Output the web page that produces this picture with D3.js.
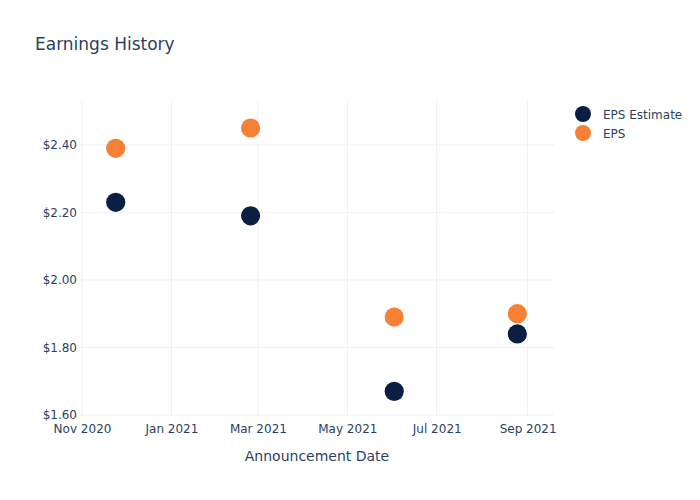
<!DOCTYPE html>
<html>
<head>
<meta charset="utf-8">
<script src="https://cdn.jsdelivr.net/npm/d3@7"></script>
<style>
  body { margin: 0; background: #fff; }
  text { font-family: "DejaVu Sans", Verdana, sans-serif; fill: #2a3f5f; }
</style>
</head>
<body>
<div id="chart"></div>
<script>
const width = 700;
const height = 500;

// data
const dates = ["2020-11-24", "2021-02-24", "2021-06-02", "2021-08-25"];
const epsEstimate = [2.23, 2.19, 1.67, 1.84];
const eps = [2.39, 2.45, 1.89, 1.90];
const seriesNames = ["EPS Estimate", "EPS"];
const seriesColors = ["#0b1f42", "#f68135"];
const yTicks = [1.6, 1.8, 2.0, 2.2, 2.4];

const margin = { left: 80, right: 146, top: 100, bottom: 84 };

const svg = d3.select("#chart")
    .append("svg")
    .attr("width", width)
    .attr("height", height);

const parse = d3.utcParse("%Y-%m-%d");

const x = d3.scaleUtc()
    .domain([new Date(Date.UTC(2020, 9, 30, 15)), new Date(Date.UTC(2021, 8, 19))])
    .range([margin.left, width - margin.right]);

const y = d3.scaleLinear()
    .domain([1.597, 2.533])
    .range([height - margin.bottom, margin.top]);

const xTicks = x.ticks(d3.utcMonth.every(2));

// grid
svg.append("g")
    .selectAll("line")
    .data(xTicks)
    .join("line")
    .attr("x1", d => x(d)).attr("x2", d => x(d))
    .attr("y1", margin.top).attr("y2", height - margin.bottom)
    .attr("stroke", "#ebf0f8");

svg.append("g")
    .selectAll("line")
    .data(yTicks)
    .join("line")
    .attr("x1", margin.left).attr("x2", width - margin.right)
    .attr("y1", d => y(d)).attr("y2", d => y(d))
    .attr("stroke", "#ebf0f8");

// axes (labels only, no domain line)
const xAxis = svg.append("g")
    .attr("transform", `translate(0,${height - margin.bottom})`)
    .call(d3.axisBottom(x).tickValues(xTicks).tickFormat(d3.utcFormat("%b %Y")).tickSize(0).tickPadding(8));

const yAxis = svg.append("g")
    .attr("transform", `translate(${margin.left},0)`)
    .call(d3.axisLeft(y).tickValues(yTicks).tickFormat(d3.format("$.2f")).tickSize(0).tickPadding(3));

[xAxis, yAxis].forEach(a => {
    a.select(".domain").remove();
    a.selectAll("text").attr("font-size", 12).attr("fill", "#2a3f5f")
        .style("font-family", "'DejaVu Sans', Verdana, sans-serif");
});

// points
const series = [epsEstimate, eps];
series.forEach((vals, i) => {
    svg.append("g")
        .selectAll("circle")
        .data(vals)
        .join("circle")
        .attr("cx", (d, j) => x(parse(dates[j])))
        .attr("cy", d => y(d))
        .attr("r", 9.6)
        .attr("fill", seriesColors[i]);
});

// title
svg.append("text")
    .attr("x", 35).attr("y", 50)
    .attr("font-size", 17)
    .text("Earnings History");

svg.append("text")
    .attr("x", (margin.left + width - margin.right) / 2)
    .attr("y", 461)
    .attr("text-anchor", "middle")
    .attr("font-size", 14)
    .text("Announcement Date");

// legend
const legend = svg.append("g");
seriesNames.forEach((name, i) => {
    const ly = 114 + i * 19;
    legend.append("circle")
        .attr("cx", 583).attr("cy", ly).attr("r", 8)
        .attr("fill", seriesColors[i]);
    legend.append("text")
        .attr("x", 603).attr("y", ly + 4.5)
        .attr("font-size", 12)
        .text(name);
});
</script>
</body>
</html>
